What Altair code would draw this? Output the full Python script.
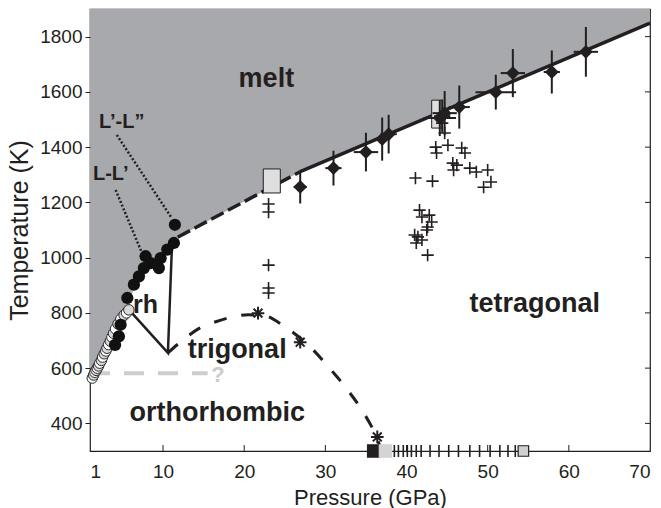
import altair as alt
import pandas as pd

FONT = "Liberation Sans"
INK = "#231f20"

# ---------------- data ----------------
# shaded melt region lower boundary (P in GPa, T in K)
melt_p = [1.0, 1.3, 2.4, 3.5, 4.6, 5.8, 6.4, 7.0, 7.6, 9.5, 10.5, 11.3, 11.8, 26.9, 70.0]
melt_t = [556, 566, 630, 698, 740, 812, 900, 930, 962, 960, 1028, 1055, 1074, 1311, 1849]
melt_top = 1900

melt_dash_p = [11.8, 26.9]
melt_dash_t = [1074, 1311]
melt_solid_p = [26.9, 70.0]
melt_solid_t = [1311, 1849]

# rh / trigonal solid boundaries
rh_p = [5.9, 10.6, 11.1]
rh_t = [808, 655, 1045]

# trigonal / tetragonal dashed boundary
trig_p = [10.6, 12.5, 14.5, 16.5, 18.5, 20.5, 22.5, 24.5, 26.5, 28.5, 30.5, 32.5, 34.5, 36.0, 36.9]
trig_t = [655, 703, 745, 768, 785, 793, 790, 760, 718, 666, 600, 530, 448, 370, 305]

# grey dashed (uncertain) boundary
grey_p = [1.0, 15.5]
grey_t = [581, 581]

# dotted L-L' and L'-L'' lines
lll_p = [4.16, 7.5]
lll_t = [1245, 1010]
llll_p = [4.3, 11.1]
llll_t = [1444, 1142]

# open (white / light grey) circles
wc_p = [1.28, 1.45, 1.6, 1.75, 1.9, 2.05, 2.2, 2.4, 2.55, 2.75, 2.95, 3.1, 3.3, 3.5, 3.7, 3.9, 4.15, 4.45, 4.8, 5.2, 5.5, 5.79]
wc_t = [564, 575, 585, 592, 600, 608, 618, 628, 640, 652, 662, 672, 685, 698, 712, 726, 742, 760, 778, 792, 800, 811]
wc_fill = ["#ffffff", "#d9d9d9"] * 11

# black circles
bc_p = [4.09, 4.56, 4.77, 5.6, 6.41, 7.03, 7.64, 7.85, 8.47, 9.49, 9.70, 10.52, 11.34, 11.46]
bc_t = [684, 715, 757, 854, 902, 932, 962, 1005, 980, 962, 998, 1029, 1053, 1119]

# diamonds with error bars
dia_p = [26.9, 31.0, 35.0, 37.0, 37.8, 44.1, 44.7, 44.4, 46.5, 51.0, 53.1, 57.9, 62.1]
dia_t = [1256, 1324, 1382, 1429, 1447, 1505, 1523, 1512, 1545, 1599, 1668, 1672, 1745]
dia_dp = [0.8, 1.0, 1.5, 1.0, 1.0, 2.0, 1.5, 1.0, 1.3, 2.5, 1.5, 1.0, 1.5]
dia_dt = [60, 63, 70, 78, 70, 65, 80, 60, 78, 63, 87, 78, 90]

# crosses
pl_p = [23.0, 23.0, 23.0, 23.0, 23.0,
        44.4, 44.7, 45.1, 43.6, 43.7, 46.8, 47.2, 45.7, 46.2, 45.8, 47.8, 48.6, 50.0, 50.4, 49.5,
        41.1, 43.2, 41.6, 41.9, 42.8, 43.1, 42.6, 42.5, 41.0, 41.4, 41.9, 41.2, 42.6]
pl_t = [1194, 1165, 973, 890, 872,
        1487, 1451, 1407, 1400, 1379, 1397, 1379, 1342, 1335, 1317, 1324, 1310, 1317, 1274, 1255,
        1288, 1277, 1172, 1147, 1154, 1129, 1111, 1100, 1082, 1075, 1064, 1053, 1009]

# asterisks
st_p = [21.7, 26.9, 36.4]
st_t = [799, 694, 351]

# vertical bars on the pressure axis
vb_p = [38.5, 39.0, 39.6, 40.1, 40.6, 41.2, 41.8, 42.9, 44.0, 45.2, 46.4, 47.8, 49.0, 50.3, 51.5, 52.5, 53.4]

# grey rectangles (P range, T range)
rect_p1 = [22.35, 43.1]
rect_p2 = [24.45, 44.4]
rect_t1 = [1234, 1469]
rect_t2 = [1321, 1570]

# squares on the axis
sq_p = [35.95, 37.4, 54.4]
sq_fill = ["#231f20", "#d4d4d4", "#d0d0d0"]
sq_stroke = ["#231f20", "#d4d4d4", "#231f20"]

# region labels
lab_text = ["melt", "trigonal", "orthorhombic", "tetragonal"]
lab_p = [19.31, 13.03, 5.88, 47.77]
lab_t = [1617, 637, 409, 803]

x_ticks = [1, 10, 20, 30, 40, 50, 60, 70]
y_ticks = [400, 600, 800, 1000, 1200, 1400, 1600, 1800]

# ---------------- chart ----------------
xs = alt.Scale(domain=[1, 70], nice=False, zero=False)
ys = alt.Scale(domain=[300, 1900], nice=False, zero=False)

x_axis = alt.Axis(values=x_ticks, format="d", tickSize=0, domain=False, grid=False, labelFont=FONT,
                  labelFontSize=19, labelColor=INK, labelPadding=11, titleFont=FONT,
                  titleFontSize=22, titleFontWeight="normal", titleColor=INK, titlePadding=6,
                  zindex=1)
y_axis = alt.Axis(values=y_ticks, format="d", tickSize=5, tickColor=INK, domain=False, grid=False,
                  labelFont=FONT, labelFontSize=19, labelColor=INK, labelPadding=3,
                  titleFont=FONT, titleFontSize=25, titleFontWeight="normal", titleColor=INK,
                  titlePadding=7, zindex=1)


def X(f="P"):
    return alt.X(f, type="quantitative", scale=xs, axis=x_axis, title="Pressure (GPa)")


def Y(f="T"):
    return alt.Y(f, type="quantitative", scale=ys, axis=y_axis, title="Temperature (K)")


def line_df(p, t):
    return pd.DataFrame({"P": p, "T": t, "o": list(range(len(p)))})


area_df = pd.DataFrame({"P": melt_p, "T": melt_t, "top": [melt_top] * len(melt_p)})
area = alt.Chart(area_df).mark_area(color="#a8a9ac", opacity=1).encode(
    x=X(), y=Y(), y2=alt.Y2("top"))

grey_line = alt.Chart(line_df(grey_p, grey_t)).mark_line(
    color="#cdcdcd", strokeWidth=4, strokeDash=[20, 14]).encode(x=X(), y=Y(), order="o:Q")

dot1 = alt.Chart(line_df(lll_p, lll_t)).mark_line(
    color=INK, strokeWidth=2.5, strokeDash=[2, 2]).encode(x=X(), y=Y(), order="o:Q")
dot2 = alt.Chart(line_df(llll_p, llll_t)).mark_line(
    color=INK, strokeWidth=2.5, strokeDash=[2, 2]).encode(x=X(), y=Y(), order="o:Q")

mdash = alt.Chart(line_df(melt_dash_p, melt_dash_t)).mark_line(
    color=INK, strokeWidth=3.5, strokeDash=[14, 5]).encode(x=X(), y=Y(), order="o:Q")
msolid = alt.Chart(line_df(melt_solid_p, melt_solid_t)).mark_line(
    color=INK, strokeWidth=3.5).encode(x=X(), y=Y(), order="o:Q")

rh = alt.Chart(line_df(rh_p, rh_t)).mark_line(
    color=INK, strokeWidth=2.5).encode(x=X(), y=Y(), order="o:Q")
trig = alt.Chart(line_df(trig_p, trig_t)).mark_line(
    color=INK, strokeWidth=3, strokeDash=[13, 15], interpolate="monotone").encode(
    x=X(), y=Y(), order="o:Q")

wc = alt.Chart(pd.DataFrame({"P": wc_p, "T": wc_t, "f": wc_fill})).mark_point(
    shape="circle", filled=True, size=110, stroke="#2a2a2a", strokeWidth=1, opacity=1).encode(
    x=X(), y=Y(), fill=alt.Fill("f:N", scale=None))

bc = alt.Chart(pd.DataFrame({"P": bc_p, "T": bc_t})).mark_point(
    shape="circle", filled=True, size=150, color="#111111", opacity=1).encode(x=X(), y=Y())

rects = alt.Chart(pd.DataFrame({"P": rect_p1, "P2": rect_p2, "T": rect_t1, "T2": rect_t2})).mark_rect(
    fill="#dedede", stroke=INK, strokeWidth=1).encode(x=X(), x2="P2", y=Y(), y2="T2")

dia_df = pd.DataFrame({
    "P": dia_p, "T": dia_t,
    "Plo": [p - d for p, d in zip(dia_p, dia_dp)], "Phi": [p + d for p, d in zip(dia_p, dia_dp)],
    "Tlo": [t - d for t, d in zip(dia_t, dia_dt)], "Thi": [t + d for t, d in zip(dia_t, dia_dt)],
})
ebv = alt.Chart(dia_df).mark_rule(color=INK, strokeWidth=2).encode(x=X(), y=Y("Tlo"), y2="Thi")
ebh = alt.Chart(dia_df).mark_rule(color=INK, strokeWidth=2).encode(x=X("Plo"), x2="Phi", y=Y())
dia = alt.Chart(dia_df).mark_point(shape="diamond", filled=True, size=190, color=INK, opacity=1).encode(
    x=X(), y=Y())

plus = alt.Chart(pd.DataFrame({"P": pl_p, "T": pl_t})).mark_point(
    shape="M-1,0L1,0M0,-1L0,1", filled=False, size=150, color=INK, strokeWidth=1.6, opacity=1).encode(
    x=X(), y=Y())

stars = alt.Chart(pd.DataFrame({"P": st_p, "T": st_t})).mark_point(
    shape="M-1,0L1,0M0,-1L0,1M-0.7,-0.7L0.7,0.7M-0.7,0.7L0.7,-0.7", filled=False, size=160,
    color=INK, strokeWidth=2, opacity=1).encode(x=X(), y=Y())

vbars = alt.Chart(pd.DataFrame({"P": vb_p, "T": [300] * len(vb_p)})).mark_point(
    shape="M0,-1L0,1", filled=False, size=144, color=INK, strokeWidth=1.6, opacity=1).encode(
    x=X(), y=Y())

squares = alt.Chart(pd.DataFrame({"P": sq_p, "T": [300] * 3, "f": sq_fill, "s": sq_stroke,
                                  "sz": [150, 150, 110]})).mark_point(
    shape="square", filled=True, strokeWidth=1.2, opacity=1).encode(
    x=X(), y=Y(), fill=alt.Fill("f:N", scale=None), stroke=alt.Stroke("s:N", scale=None),
    size=alt.Size("sz:Q", scale=None))

# inward ticks: bottom and right
bticks = alt.Chart(pd.DataFrame({"P": x_ticks[1:-1]})).mark_rule(color=INK, strokeWidth=1).encode(
    x=X(), y=alt.value(436), y2=alt.value(442))
rticks = alt.Chart(pd.DataFrame({"T": y_ticks})).mark_rule(color=INK, strokeWidth=1).encode(
    y=Y(), x=alt.value(555), x2=alt.value(560))

labels = alt.Chart(pd.DataFrame({"P": lab_p, "T": lab_t, "txt": lab_text})).mark_text(
    font=FONT, fontSize=27, fontWeight="bold", color=INK, align="left", baseline="alphabetic").encode(
    x=X(), y=Y(), text="txt:N")
rh_lab = alt.Chart(pd.DataFrame({"P": [6.3], "T": [799], "txt": ["rh"]})).mark_text(
    font=FONT, fontSize=25, fontWeight="bold", color=INK, align="left", baseline="alphabetic").encode(
    x=X(), y=Y(), text="txt:N")
l_lab = alt.Chart(pd.DataFrame({"P": [2.10, 1.36], "T": [1469, 1281], "txt": ["L\u2019-L\u201d", "L-L\u2019"]})).mark_text(
    font=FONT, fontSize=20, fontWeight="bold", color=INK, align="left", baseline="alphabetic").encode(
    x=X(), y=Y(), text="txt:N")
q_lab = alt.Chart(pd.DataFrame({"P": [15.95], "T": [551], "txt": ["?"]})).mark_text(
    font=FONT, fontSize=22, fontWeight="bold", color="#cacaca", align="left", baseline="alphabetic").encode(
    x=X(), y=Y(), text="txt:N")

chart = alt.layer(
    area, grey_line, q_lab, dot1, dot2, mdash, msolid, rh, trig, rects,
    ebv, ebh, plus, dia, wc, bc, stars, vbars, squares, bticks, rticks,
    labels, rh_lab, l_lab,
).properties(
    width=560, height=442,
    autosize=alt.AutoSizeParams(type="none"),
    padding={"left": 90, "top": 9, "right": 11, "bottom": 57},
    background="white",
).configure_view(stroke=INK, strokeWidth=1.2)

chart.save("out.html", embed_options={"renderer": "svg", "actions": False})
